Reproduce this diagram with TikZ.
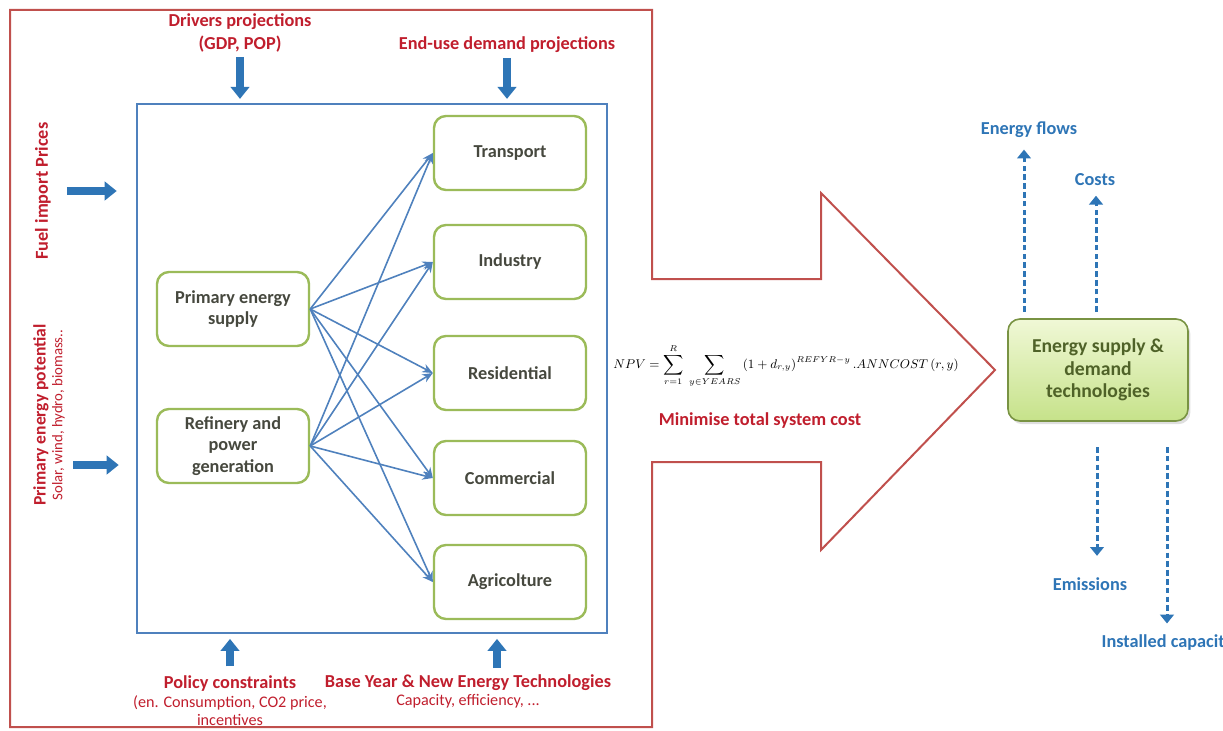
\documentclass[tikz,border=0pt]{standalone}
\usepackage{fontspec}
\setmainfont{Carlito}
\usetikzlibrary{arrows.meta,positioning,shadows}

\definecolor{framered}{RGB}{192,80,77}
\definecolor{textred}{RGB}{192,30,45}
\definecolor{modelblue}{RGB}{79,129,189}
\definecolor{flowblue}{RGB}{46,117,182}
\definecolor{boxgreen}{RGB}{155,187,89}
\definecolor{boxtext}{RGB}{70,72,62}
\definecolor{techtext}{RGB}{79,98,40}
\definecolor{techtop}{RGB}{240,248,214}
\definecolor{techbottom}{RGB}{198,226,138}

\begin{document}
\begin{tikzpicture}[x=0.25mm,y=-0.25mm,>={Stealth[length=2.6mm,width=2.2mm]},
  head/.style={text=textred,font=\bfseries\fontsize{13}{16}\selectfont,align=center,inner sep=1pt},
  sub/.style={text=textred,font=\fontsize{11.5}{13}\selectfont,align=center,inner sep=1pt},
  sector/.style={draw=boxgreen,line width=0.6mm,rounded corners=3mm,minimum width=38mm,
    minimum height=18.5mm,inner sep=1pt,align=center,text=boxtext,
    font=\bfseries\fontsize{13}{15.5}\selectfont},
  link/.style={->,draw=modelblue,line width=0.4mm},
  feed/.style={-{Triangle[length=3mm,width=4.6mm]},draw=flowblue,line width=2mm},
  result/.style={-{Triangle[length=2.2mm,width=3.4mm]},draw=flowblue,line width=0.75mm,
    dash pattern=on 1.4mm off 0.8mm},
  outlabel/.style={text=flowblue,font=\bfseries\fontsize{13}{15}\selectfont,inner sep=1pt}]
  \useasboundingbox (0,0) rectangle (1223,730);

  % Frame with the big arrow
  \draw[framered,line width=0.5mm,line join=miter]
    (10,10) -- (652,10) -- (652,279) -- (821,279) -- (821,193) -- (995,370)
    -- (821,550) -- (821,462) -- (652,462) -- (652,727) -- (10,727) -- cycle;

  % Model box
  \node[draw=modelblue,line width=0.55mm,minimum width=117.5mm,minimum height=132.25mm,
    inner sep=0] (model) at (372,368.5) {};

  % Supply side
  \node[sector] (primary)  at (233,309) {Primary energy\\supply};
  \node[sector] (refinery) at (233,446) {Refinery and\\power\\generation};

  % Demand sectors
  \node[sector] (transport)   at (510,153) {Transport};
  \node[sector] (industry)    at (510,262) {Industry};
  \node[sector] (residential) at (510,373) {Residential};
  \node[sector] (commercial)  at (510,478) {Commercial};
  \node[sector] (agriculture) at (510,582) {Agricolture};

  \foreach \s in {primary,refinery}
    \foreach \d in {transport,industry,residential,commercial,agriculture}
      \draw[link] (\s.east) -- (\d.west);

  % Inputs
  \node[head] (drivers) at (240,33) {Drivers projections\\(GDP, POP)};
  \node[head] (enduse)  at (507,45) {End-use demand projections};
  \draw[feed,shorten <=0.8mm,shorten >=1mm] (drivers.south) -- (drivers.south |- model.north);
  \draw[feed,shorten <=0.8mm,shorten >=1mm] (enduse.south) -- (enduse.south |- model.north);

  \node[head,rotate=90] (fuel) at (43,191) {Fuel import Prices};
  \draw[feed,shorten <=3.6mm,shorten >=4.8mm] (fuel.south) -- (fuel.south -| model.west);

  \node[rotate=90,align=center,text=textred] (potential) at (49,415)
    {{\bfseries\fontsize{12.5}{17}\selectfont Primary energy potential}\\
     {\fontsize{10.5}{12}\selectfont Solar, wind, hydro, biomass..}};
  \coordinate (potin) at (73,465);
  \draw[feed,shorten >=4.3mm] (potin) -- (potin -| model.west);

  \node[head] (policy) at (230,684) {Policy constraints};
  \node[sub,below=0pt of policy] (policysub) {(en. Consumption, CO2 price,\\incentives};
  \draw[feed,shorten <=2mm,shorten >=1.2mm] (policy.north) -- (policy.north |- model.south);

  \node[head] (baseyear) at (468,683) {Base Year \& New Energy Technologies};
  \node[sub,below=0pt of baseyear] (baseyearsub) {Capacity, efficiency, ...};
  \coordinate (basein) at (497,668);
  \draw[feed,shorten >=1.2mm] (basein) -- (basein |- model.south);

  % Objective
  \node (npv) at (786,366) {\fontsize{8.8}{10}\selectfont
    $\displaystyle NPV=\sum_{r=1}^{R}\;\sum_{y\in YEARS}\left(1+d_{r,y}\right)^{REFYR-y}.ANNCOST\,(r,y)$};
  \node[head] (mincost) at (760,421) {Minimise total system cost};

  % Model results
  \node[draw=techtext!45!boxgreen,line width=0.4mm,rounded corners=3mm,top color=techtop,
    bottom color=techbottom,minimum width=45mm,minimum height=25.5mm,align=center,text=techtext,
    font=\bfseries\fontsize{14}{16}\selectfont,
    drop shadow={opacity=0.25,shadow xshift=0.6mm,shadow yshift=-0.8mm}] (tech) at (1098,370)
    {Energy supply \&\\demand\\technologies};

  \node[outlabel] (flows)     at (1029,130) {Energy flows};
  \node[outlabel] (costs)     at (1095,180) {Costs};
  \node[outlabel] (emissions) at (1090,584) {Emissions};
  \node[outlabel,anchor=west] (capacity) at (1100,643) {Installed capacit};

  \coordinate (flowsfoot) at (1024,312);
  \coordinate (costsfoot) at (1096,312);
  \coordinate (emisfoot)  at (1097,447);
  \coordinate (capfoot)   at (1167,447);
  \draw[result,shorten >=2.5mm] (flowsfoot) -- (flowsfoot |- flows.south);
  \draw[result,shorten >=2mm]   (costsfoot) -- (costsfoot |- costs.south);
  \draw[result,shorten >=5mm]   (emisfoot) -- (emisfoot |- emissions.north);
  \draw[result,shorten >=2.5mm] (capfoot) -- (capfoot |- capacity.north);
\end{tikzpicture}
\end{document}
